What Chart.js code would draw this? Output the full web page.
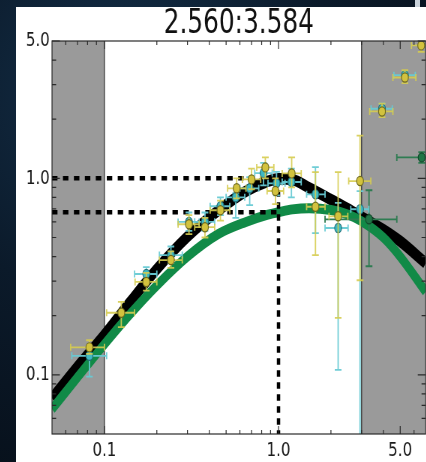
<!DOCTYPE html>
<html>
<head>
<meta charset="utf-8">
<script src="https://cdn.jsdelivr.net/npm/chart.js@4.4.1/dist/chart.umd.min.js"></script>
<style>
  html, body { margin: 0; padding: 0; }
  body {
    width: 426px; height: 462px; overflow: hidden; position: relative;
    background: radial-gradient(circle at 30% 20%, #14304a 0%, #0b1a2a 45%, #060d16 100%);
  }
  #panel {
    position: absolute; left: 16px; top: 7px; width: 410px; height: 455px;
    background: #ffffff; overflow: hidden;
  }
  #stretch {
    position: absolute; left: 0; top: 0; width: 552px; height: 455px;
    transform: scaleX(0.75); transform-origin: 0 0;
  }
  #edge { position: absolute; left: 415px; top: 0; width: 5px; height: 7px; background: #c9d2da; }
</style>
</head>
<body>
<div id="edge"></div>
<div id="panel"><div id="stretch"><canvas id="c" width="552" height="455"></canvas></div></div>
<script>
// Model curves sampled on a common grid
const curveX      = [0.05, 0.07, 0.1, 0.14, 0.2, 0.3, 0.45, 0.65, 0.85, 1.0, 1.2, 1.5, 2.0, 2.5, 3.0, 4.0, 5.0, 7.0];
const blackModel  = [0.076, 0.110, 0.160, 0.234, 0.345, 0.505, 0.685, 0.86, 0.96, 0.995, 0.985, 0.895, 0.78, 0.70, 0.635, 0.548, 0.478, 0.37];
const greenModel  = [0.067, 0.097, 0.143, 0.203, 0.285, 0.400, 0.520, 0.600, 0.650, 0.672, 0.695, 0.705, 0.69, 0.655, 0.605, 0.50, 0.40, 0.265];

// Normalisation guides
const refX = 1.0;
const refLevels = [1.0, 0.672];

// Excluded ranges
const shadedBands = [[0.05, 0.1], [3.0, 7.0]];

// Measurements (x, y, x range, y range)
const yellowX = [0.082, 0.125, 0.174, 0.241, 0.306, 0.378, 0.464, 0.575, 0.70, 0.84, 0.96, 1.19, 1.63, 2.20, 2.94, 3.93, 5.32, 6.6];
const yellowY = [0.138, 0.207, 0.297, 0.384, 0.584, 0.564, 0.688, 0.890, 0.988, 1.137, 0.862, 1.06, 0.717, 0.641, 0.969, 2.19, 3.26, 4.75];
const yellowXErr = [[0.064,0.100],[0.103,0.149],[0.150,0.200],[0.207,0.280],[0.265,0.350],[0.330,0.430],[0.405,0.525],[0.510,0.650],[0.62,0.79],[0.75,0.94],[0.86,1.07],[1.05,1.35],[1.45,1.85],[1.95,2.50],[2.53,3.39],[3.34,4.54],[4.54,6.15],[5.8,7.6]];
const yellowYErr = [[0.128,0.150],[0.175,0.235],[0.268,0.330],[0.350,0.425],[0.520,0.650],[0.500,0.630],[0.610,0.770],[0.790,1.000],[0.880,1.120],[1.000,1.280],[0.740,1.000],[0.900,1.280],[0.407,1.076],[0.195,1.076],[0.303,1.650],[2.05,2.40],[3.05,3.55],[4.40,5.20]];

const cyanX = [0.082, 0.174, 0.241, 0.306, 0.378, 0.464, 0.568, 0.683, 0.82, 0.974, 1.186, 1.63, 2.20, 2.94, 3.93, 5.32];
const cyanY = [0.125, 0.326, 0.407, 0.600, 0.601, 0.721, 0.801, 0.890, 1.064, 0.943, 0.958, 0.829, 0.559, 0.696, 2.26, 3.35];
const cyanXErr = [[0.065,0.103],[0.149,0.200],[0.207,0.280],[0.265,0.350],[0.330,0.430],[0.405,0.525],[0.500,0.640],[0.60,0.77],[0.73,0.92],[0.87,1.09],[1.05,1.35],[1.45,1.85],[1.85,2.51],[2.60,3.30],[3.40,4.50],[4.60,6.10]];
const cyanYErr = [[0.098,0.138],[0.293,0.353],[0.37,0.45],[0.54,0.67],[0.54,0.67],[0.65,0.80],[0.63,0.84],[0.73,1.015],[0.92,1.20],[0.82,1.08],[0.80,1.12],[0.526,1.14],[0.106,0.75],[0.02,0.86],[2.15,2.40],[3.20,3.50]];

const greenX = [3.31, 6.64];
const greenY = [0.619, 1.278];
const greenXErr = [[1.85, 4.78], [4.78, 9.0]];
const greenYErr = [[0.357, 0.87], [1.20, 1.36]];

// Axis ticks
const xMajorTicks = [0.1, 1.0, 5.0];
const yMajorTicks = [0.1, 1.0, 5.0];
const xRange = [0.05, 7.0];
const yRange = [0.05, 5.0];

const pts = (xs, ys) => xs.map((x, i) => ({ x, y: ys[i] }));
const minorTicks = (lo, hi) => {
  const out = [];
  for (let d = -2; d <= 1; d++) for (let m = 1; m <= 9; m++) {
    const v = m * Math.pow(10, d);
    if (v > lo * 1.0001 && v < hi * 0.9999) out.push(v);
  }
  return out;
};

const bands = {
  id: 'bands',
  beforeDatasetsDraw(chart) {
    const { ctx, chartArea: a, scales: { x } } = chart;
    ctx.save();
    shadedBands.forEach(([lo, hi]) => {
      const x0 = Math.max(a.left, x.getPixelForValue(lo));
      const x1 = Math.min(a.right, x.getPixelForValue(hi));
      ctx.fillStyle = '#9a9a9a';
      ctx.fillRect(x0, a.top, x1 - x0, a.bottom - a.top);
      ctx.strokeStyle = '#3c3c3c';
      ctx.lineWidth = 1.4;
      ctx.beginPath();
      if (x0 > a.left + 1) { ctx.moveTo(x0, a.top); ctx.lineTo(x0, a.bottom); }
      if (x1 < a.right - 1) { ctx.moveTo(x1, a.top); ctx.lineTo(x1, a.bottom); }
      ctx.stroke();
    });
    ctx.restore();
  }
};

const errorBars = {
  id: 'errorBars',
  beforeDatasetDraw(chart, args) {
    const ds = chart.data.datasets[args.index];
    if (!ds.err) return;
    const { ctx, chartArea: a, scales: { x, y } } = chart;
    ctx.save();
    ctx.beginPath();
    ctx.rect(a.left, a.top, a.right - a.left, a.bottom - a.top);
    ctx.clip();
    ctx.strokeStyle = ds.err.color;
    ctx.lineWidth = 1.8;
    const capX = 4.5, capY = 3.5;
    ds.data.forEach((p, i) => {
      const px = x.getPixelForValue(p.x), py = y.getPixelForValue(p.y);
      const [xl, xh] = ds.err.x[i], [yl, yh] = ds.err.y[i];
      const x0 = x.getPixelForValue(xl), x1 = x.getPixelForValue(xh);
      const y0 = y.getPixelForValue(yl), y1 = y.getPixelForValue(yh);
      ctx.beginPath();
      ctx.moveTo(x0, py); ctx.lineTo(x1, py);
      ctx.moveTo(px, y0); ctx.lineTo(px, y1);
      ctx.moveTo(x0, py - capY); ctx.lineTo(x0, py + capY);
      ctx.moveTo(x1, py - capY); ctx.lineTo(x1, py + capY);
      ctx.moveTo(px - capX, y0); ctx.lineTo(px + capX, y0);
      ctx.moveTo(px - capX, y1); ctx.lineTo(px + capX, y1);
      ctx.stroke();
    });
    ctx.restore();
  }
};

const frame = {
  id: 'frame',
  afterDatasetsDraw(chart) {
    const { ctx, chartArea: a, scales: { x, y } } = chart;
    ctx.save();
    ctx.strokeStyle = '#2a2a2a';
    ctx.lineWidth = 1.2;
    ctx.strokeRect(a.left, a.top, a.right - a.left, a.bottom - a.top);
    ctx.beginPath();
    const xMinor = minorTicks(xRange[0], xRange[1]);
    const yMinor = minorTicks(yRange[0], yRange[1]);
    const vTick = (v, len) => {
      const px = x.getPixelForValue(v);
      ctx.moveTo(px, a.bottom); ctx.lineTo(px, a.bottom - len);
      ctx.moveTo(px, a.top); ctx.lineTo(px, a.top + len);
    };
    const hTick = (v, len) => {
      const py = y.getPixelForValue(v);
      ctx.moveTo(a.left, py); ctx.lineTo(a.left + len, py);
      ctx.moveTo(a.right, py); ctx.lineTo(a.right - len, py);
    };
    xMinor.forEach(v => vTick(v, 4));
    xMajorTicks.forEach(v => vTick(v, 8));
    yMinor.forEach(v => hTick(v, 5.5));
    yMajorTicks.forEach(v => hTick(v, 10.5));
    ctx.stroke();
    ctx.restore();
  }
};

const tickFont = { family: 'DejaVu Sans', size: 20 };
const fmt = v => Number(v).toFixed(1);

new Chart(document.getElementById('c'), {
  type: 'scatter',
  data: {
    datasets: [
      { label: 'yellow', data: pts(yellowX, yellowY), pointRadius: 4.6, pointBackgroundColor: '#d2c23e', pointBorderColor: '#6f6a1e', pointBorderWidth: 1.2,
        err: { x: yellowXErr, y: yellowYErr, color: 'rgba(214,204,80,0.9)' } },
      { label: 'cyan', data: pts(cyanX, cyanY), pointRadius: 4.6, pointBackgroundColor: '#3fb9c2', pointBorderColor: '#23707a', pointBorderWidth: 1.2,
        err: { x: cyanXErr, y: cyanYErr, color: 'rgba(104,202,212,0.95)' } },
      { label: 'green', data: pts(greenX, greenY), pointRadius: 4.6, pointBackgroundColor: '#1f7545', pointBorderColor: '#124a2b', pointBorderWidth: 1.2,
        err: { x: greenXErr, y: greenYErr, color: '#2f7c52' } },
      { label: 'ref1', data: [{ x: xRange[0], y: refLevels[0] }, { x: refX, y: refLevels[0] }], showLine: true, pointRadius: 0,
        borderColor: '#000', borderWidth: 4.5, borderDash: [7.3, 7.3], borderCapStyle: 'butt', clip: 0 },
      { label: 'ref2', data: [{ x: xRange[0], y: refLevels[1] }, { x: refX, y: refLevels[1] }], showLine: true, pointRadius: 0,
        borderColor: '#000', borderWidth: 4.5, borderDash: [7.3, 7.3], borderCapStyle: 'butt', clip: 0 },
      { label: 'refV', data: [{ x: refX, y: refLevels[0] }, { x: refX, y: yRange[0] }], showLine: true, pointRadius: 0,
        borderColor: '#000', borderWidth: 4.5, borderDash: [6.5, 5.5], borderCapStyle: 'butt', clip: 0 },
      { label: 'green model', data: pts(curveX, greenModel), showLine: true, pointRadius: 0, borderColor: '#118a47', borderWidth: 10,
        cubicInterpolationMode: 'monotone', clip: 0 },
      { label: 'black model', data: pts(curveX, blackModel), showLine: true, pointRadius: 0, borderColor: '#000000', borderWidth: 11.5,
        cubicInterpolationMode: 'monotone', clip: 0 }
    ]
  },
  options: {
    responsive: false,
    devicePixelRatio: 1,
    animation: false,
    layout: { padding: { left: 0, right: 2.7, top: 0, bottom: 0 } },
    plugins: {
      legend: { display: false },
      tooltip: { enabled: false },
      title: {
        display: true, text: '2.560:3.584', fullSize: false, color: '#111',
        font: { family: 'DejaVu Sans', size: 33, weight: 'normal', lineHeight: 1 },
        padding: { top: 1, bottom: 0 }
      }
    },
    scales: {
      x: {
        type: 'logarithmic', min: xRange[0], max: xRange[1],
        grid: { display: false, drawTicks: false }, border: { display: false },
        afterBuildTicks: s => { s.ticks = xMajorTicks.map(v => ({ value: v })); },
        afterFit: s => { s.height = 28; },
        ticks: { font: tickFont, color: '#1a1a1a', padding: 5, autoSkip: false, maxRotation: 0, callback: fmt }
      },
      y: {
        type: 'logarithmic', min: yRange[0], max: yRange[1],
        grid: { display: false, drawTicks: false }, border: { display: false },
        afterBuildTicks: s => { s.ticks = yMajorTicks.map(v => ({ value: v })); },
        afterFit: s => { s.width = 48; },
        ticks: { font: tickFont, color: '#1a1a1a', padding: 3, autoSkip: false, callback: fmt }
      }
    }
  },
  plugins: [bands, errorBars, frame]
});
</script>
</body>
</html>
